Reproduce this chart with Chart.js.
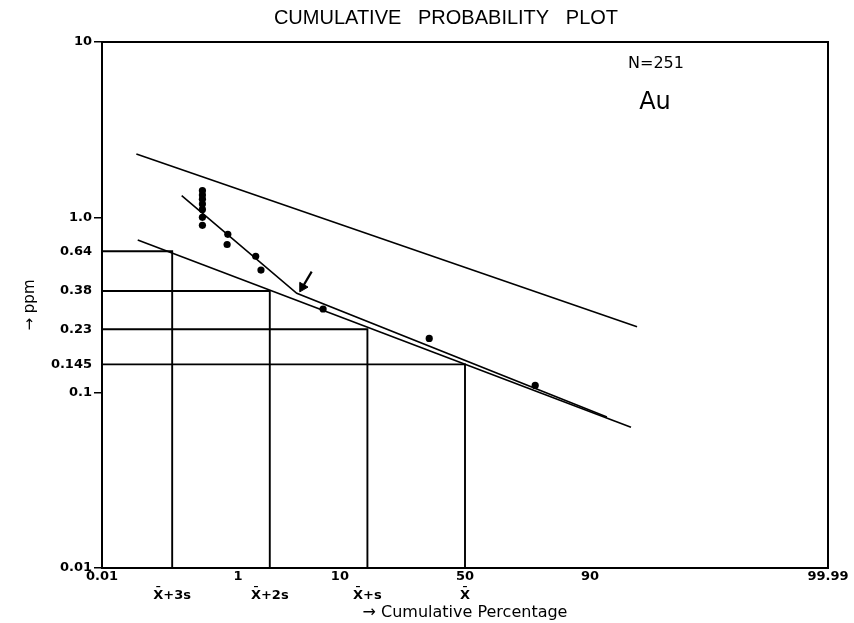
<!DOCTYPE html>
<html>
<head>
<meta charset="utf-8">
<script src="https://cdn.jsdelivr.net/npm/chart.js@4/dist/chart.umd.min.js"></script>
<style>
  html, body { margin: 0; padding: 0; background: #ffffff; }
  #wrap { width: 854px; height: 623px; }
</style>
</head>
<body>
<div id="wrap"><canvas id="c" width="854" height="623"></canvas></div>
<script>
// ---------------- data ----------------
// sample points: cumulative percentage vs Au (ppm)
const samplePct = [0.357, 0.357, 0.357, 0.357, 0.357, 0.357, 0.357, 0.755, 0.74, 1.60, 1.83, 7.3, 35.7, 76.4];
const samplePpm = [1.42, 1.34, 1.27, 1.19, 1.11, 1.00, 0.90, 0.80, 0.70, 0.60, 0.50, 0.30, 0.204, 0.110];

// straight reference lines
const upperLinePct = [0.038, 96.1];
const upperLinePpm = [2.30, 0.238];
const lowerLinePct = [0.040, 95.55];
const lowerLinePpm = [0.742, 0.0634];
const fittedLinePct = [0.185, 4.24, 92.7];
const fittedLinePpm = [1.33, 0.369, 0.0726];
const arrowPct = [5.81, 4.80];
const arrowPpm = [0.49, 0.40];

// thresholds  X+3s, X+2s, X+s, X
const thresholdPpm = [0.64, 0.38, 0.23, 0.145];
const thresholdPct = [0.135, 2.275, 15.87, 50];
const thresholdLabels = ['X\u0304+3s', 'X\u0304+2s', 'X\u0304+s', 'X\u0304'];

// axis ticks
const xTickPct = [0.01, 1, 10, 50, 90, 99.99];
const xTickLabels = ['0.01', '1', '10', '50', '90', '99.99'];
const yTickValues = [10, 1, 0.64, 0.38, 0.23, 0.145, 0.1, 0.01];
const yTickLabels = ['10', '1.0', '0.64', '0.38', '0.23', '0.145', '0.1', '0.01'];
const yMajorTicks = [10, 1, 0.1, 0.01];

const chartTitle = 'CUMULATIVE   PROBABILITY   PLOT';
const noteN = 'N=251';
const noteEl = 'Au';

// ---------------- probability (normal-probit) scale ----------------
function probit(p) {
  const a = [-3.969683028665376e+01, 2.209460984245205e+02, -2.759285104469687e+02, 1.383577518672690e+02, -3.066479806614716e+01, 2.506628277459239e+00];
  const b = [-5.447609879822406e+01, 1.615858368580409e+02, -1.556989798598866e+02, 6.680131188771972e+01, -1.328068155288572e+01];
  const c = [-7.784894002430293e-03, -3.223964580411365e-01, -2.400758277161838e+00, -2.549732539343734e+00, 4.374664141464968e+00, 2.938163982698783e+00];
  const d = [7.784695709041462e-03, 3.224671290700398e-01, 2.445134137142996e+00, 3.754408661907416e+00];
  const pl = 0.02425, ph = 1 - pl;
  let q, r;
  if (p < pl) {
    q = Math.sqrt(-2 * Math.log(p));
    return (((((c[0]*q+c[1])*q+c[2])*q+c[3])*q+c[4])*q+c[5]) / ((((d[0]*q+d[1])*q+d[2])*q+d[3])*q+1);
  }
  if (p <= ph) {
    q = p - 0.5; r = q * q;
    return (((((a[0]*r+a[1])*r+a[2])*r+a[3])*r+a[4])*r+a[5])*q / (((((b[0]*r+b[1])*r+b[2])*r+b[3])*r+b[4])*r+1);
  }
  q = Math.sqrt(-2 * Math.log(1 - p));
  return -(((((c[0]*q+c[1])*q+c[2])*q+c[3])*q+c[4])*q+c[5]) / ((((d[0]*q+d[1])*q+d[2])*q+d[3])*q+1);
}

class ProbabilityScale extends Chart.LinearScale {
  parse(raw, index) {
    const v = super.parse(raw, index);
    if (v === null || v === undefined || !isFinite(v)) return null;
    return probit(v / 100);
  }
}
ProbabilityScale.id = 'probability';
ProbabilityScale.defaults = Chart.LinearScale.defaults;
Chart.register(ProbabilityScale);

// ---------------- build datasets ----------------
const pts = (xs, ys) => xs.map((x, i) => ({ x: x, y: ys[i] }));
const lineStyle = { showLine: true, pointRadius: 0, borderColor: '#000', borderWidth: 1.6, fill: false, tension: 0 };

const datasets = [];
thresholdPpm.forEach((v, i) => {
  datasets.push(Object.assign({}, lineStyle, {
    label: thresholdLabels[i],
    data: pts([0.01, thresholdPct[i], thresholdPct[i]], [v, v, 0.01]),
    borderWidth: 1.9
  }));
});
datasets.push(Object.assign({}, lineStyle, { label: 'upper', data: pts(upperLinePct, upperLinePpm) }));
datasets.push(Object.assign({}, lineStyle, { label: 'lower', data: pts(lowerLinePct, lowerLinePpm) }));
datasets.push(Object.assign({}, lineStyle, { label: 'fitted', data: pts(fittedLinePct, fittedLinePpm) }));
datasets.push(Object.assign({}, lineStyle, { label: 'arrow', data: pts(arrowPct, arrowPpm), borderWidth: 2.2 }));
datasets.push({
  label: 'arrowhead', data: pts([arrowPct[1]], [arrowPpm[1]]),
  showLine: false, pointStyle: 'triangle', pointRotation: 210, pointRadius: 5.5,
  backgroundColor: '#000', borderColor: '#000', borderWidth: 1
});
datasets.push({
  label: 'Au samples', data: pts(samplePct, samplePpm),
  showLine: false, pointRadius: 3.6, backgroundColor: '#000', borderColor: '#000', borderWidth: 0
});

// x ticks: percentage ticks plus the X+ks positions
const xTicksAll = [];
xTickPct.forEach((p, i) => xTicksAll.push({ p: p, label: xTickLabels[i] }));
thresholdPct.forEach((p, i) => {
  const same = xTicksAll.find(t => Math.abs(t.p - p) < 1e-9);
  if (same) same.label = [same.label, thresholdLabels[i]];
  else xTicksAll.push({ p: p, label: ['', thresholdLabels[i]] });
});
xTicksAll.sort((a, b) => a.p - b.p);

// ---------------- plugins ----------------
const decorations = {
  id: 'decorations',
  beforeDraw(chart) {
    const ctx = chart.ctx;
    ctx.save();
    ctx.fillStyle = '#fff';
    ctx.fillRect(0, 0, chart.width, chart.height);
    ctx.restore();
  },
  afterDraw(chart) {
    const { ctx, chartArea: a } = chart;
    ctx.save();
    ctx.strokeStyle = '#000';
    ctx.lineWidth = 2;
    ctx.strokeRect(a.left, a.top, a.right - a.left, a.bottom - a.top);
    ctx.fillStyle = '#000';
    ctx.textAlign = 'center';
    ctx.textBaseline = 'middle';
    ctx.font = '20px "Liberation Sans", Arial, sans-serif';
    ctx.fillText(chartTitle, 446, 18);
    ctx.font = '16px "DejaVu Sans", sans-serif';
    ctx.fillText(noteN, 656, 64);
    ctx.font = '24px "DejaVu Sans", sans-serif';
    ctx.fillText(noteEl, 655, 103);
    ctx.restore();
  }
};

// ---------------- chart ----------------
new Chart(document.getElementById('c'), {
  type: 'scatter',
  data: { datasets: datasets },
  plugins: [decorations],
  options: {
    responsive: false,
    animation: false,
    layout: { padding: { left: 17, right: 26, top: 42, bottom: 0 } },
    plugins: { legend: { display: false }, tooltip: { enabled: false }, title: { display: false } },
    scales: {
      x: {
        type: 'probability',
        min: 0.01, max: 99.99,
        bounds: 'data',
        grid: { display: true, drawOnChartArea: false, drawTicks: false, color: '#000' },
        border: { display: true, color: '#000', width: 2 },
        afterBuildTicks(scale) {
          scale.ticks = xTicksAll.map(t => ({ value: scale.parse(t.p) }));
        },
        afterFit(scale) { scale.height = 55; },
        ticks: {
          autoSkip: false, maxRotation: 0, minRotation: 0, padding: 0,
          color: '#000',
          font: { family: '"DejaVu Sans", sans-serif', size: 13, weight: 'bold', lineHeight: 1.4 },
          callback: (value, index) => xTicksAll[index] ? xTicksAll[index].label : ''
        },
        title: {
          display: true, text: '\u2192 Cumulative Percentage', color: '#000',
          font: { family: '"DejaVu Sans", sans-serif', size: 16 },
          padding: { top: 0, bottom: 1 }
        }
      },
      y: {
        type: 'logarithmic',
        min: 0.01, max: 10,
        grid: {
          display: true, drawOnChartArea: false, drawTicks: true, tickLength: 8,
          color: (ctx) => (ctx.tick && yMajorTicks.some(v => Math.abs(v - ctx.tick.value) < 1e-9)) ? '#000' : 'rgba(0,0,0,0)',
          lineWidth: 1.5
        },
        border: { display: true, color: '#000', width: 2 },
        afterBuildTicks(scale) {
          scale.ticks = yTickValues.slice().sort((a, b) => a - b).map(v => ({ value: v }));
        },
        afterFit(scale) { scale.width = 85; },
        ticks: {
          autoSkip: false, padding: 2, color: '#000',
          font: { family: '"DejaVu Sans", sans-serif', size: 13, weight: 'bold' },
          callback: (value) => {
            const i = yTickValues.findIndex(v => Math.abs(v - value) < 1e-9);
            return i >= 0 ? yTickLabels[i] : '';
          }
        },
        title: {
          display: true, text: '\u2192 ppm', color: '#000',
          font: { family: '"DejaVu Sans", sans-serif', size: 15 },
          padding: { top: 4, bottom: 0 }
        }
      }
    }
  }
});
</script>
</body>
</html>
